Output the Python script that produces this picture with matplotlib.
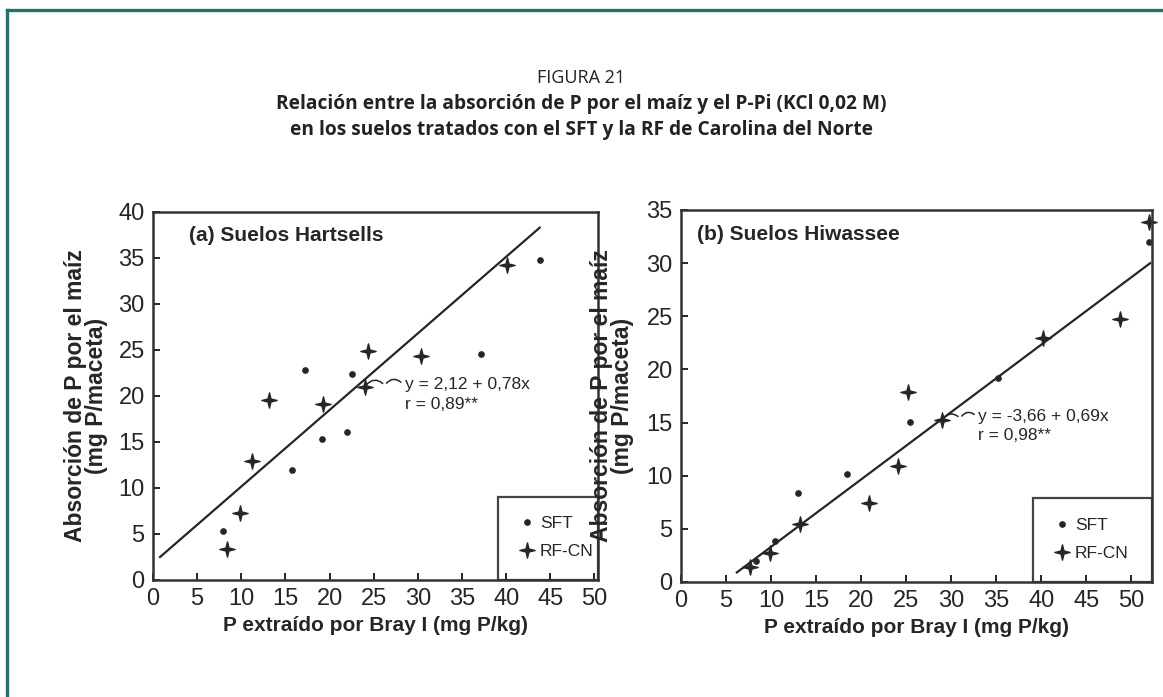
import matplotlib
matplotlib.use('Agg')
import matplotlib.pyplot as plt
import matplotlib.path as mpath
from matplotlib.lines import Line2D
from matplotlib.patches import Rectangle

W, H = 1163, 697

# (a) Suelos Hartsells
a_sft_x = [7.9, 15.7, 17.2, 19.1, 22.0, 22.5, 37.1, 43.8]
a_sft_y = [5.3, 12.0, 22.8, 15.3, 16.1, 22.4, 24.6, 34.8]
a_rf_x = [8.4, 9.8, 11.2, 13.1, 19.2, 24.0, 24.3, 30.3, 40.1]
a_rf_y = [3.4, 7.3, 12.9, 19.6, 19.1, 21.0, 24.9, 24.4, 34.2]
a_line_x = [0.8, 43.8]
a_line_y = [2.5, 38.3]

# (b) Suelos Hiwassee
b_sft_x = [8.3, 10.4, 13.0, 18.4, 25.4, 35.2, 52.0]
b_sft_y = [2.0, 3.9, 8.4, 10.2, 15.1, 19.2, 32.0]
b_rf_x = [7.7, 9.9, 13.2, 20.9, 24.1, 25.2, 29.0, 40.2, 48.8, 52.0]
b_rf_y = [1.4, 2.7, 5.5, 7.4, 10.9, 17.9, 15.2, 23.0, 24.7, 33.9]
b_line_x = [6.2, 52.1]
b_line_y = [0.9, 30.0]

x_ticks = list(range(0, 51, 5))
a_y_ticks = list(range(0, 41, 5))
b_y_ticks = list(range(0, 36, 5))

ink = '#262626'
sans = ['Liberation Sans', 'DejaVu Sans']
star = mpath.Path.unit_regular_star(4, 0.28)

fig = plt.figure(figsize=(W / 100, H / 100), dpi=100)

# marco verde
teal = '#16786a'
fig.add_artist(Line2D([7 / W, 1], [1 - 10 / H, 1 - 10 / H], color=teal, lw=2.4))
fig.add_artist(Line2D([7 / W, 7 / W], [0, 1 - 10 / H], color=teal, lw=2.4))

fig.text(0.5, 1 - 78 / H, 'FIGURA 21', ha='center', va='center',
         fontsize=13, family='Open Sans', color='#222')
fig.text(0.5, 1 - 104 / H, 'Relación entre la absorción de P por el maíz y el P-Pi (KCl 0,02 M)',
         ha='center', va='center', fontsize=13.8, family='Open Sans', weight='bold', color='#222')
fig.text(0.5, 1 - 130 / H, 'en los suelos tratados con el SFT y la RF de Carolina del Norte',
         ha='center', va='center', fontsize=13.8, family='Open Sans', weight='bold', color='#222')

ax1 = fig.add_axes([153 / W, 1 - 580 / H, 445 / W, 368 / H])
ax2 = fig.add_axes([681 / W, 1 - 582 / H, 471 / W, 372 / H])

panels = [
    (ax1, a_sft_x, a_sft_y, a_rf_x, a_rf_y, a_line_x, a_line_y, a_y_ticks, (0, 50.4), (0, 40),
     '(a) Suelos Hartsells', 'y = 2,12 + 0,78x', 'r = 0,89**', (a_rf_x[5], a_rf_y[5]), (28.5, 21.3),
     -0.10, 0.775, 0.08),
    (ax2, b_sft_x, b_sft_y, b_rf_x, b_rf_y, b_line_x, b_line_y, b_y_ticks, (0, 52.3), (0, 35),
     '(b) Suelos Hiwassee', 'y = -3,66 + 0,69x', 'r = 0,98**', (b_rf_x[6], b_rf_y[6]), (33.0, 15.6),
     -0.100, 0.747, 0.035),
]

for (ax, sx, sy, rx, ry, lx, ly, yt, xl, yl, name, eq, rr, pt, tpos, ylab_x, leg_x, name_x) in panels:
    ax.plot(lx, ly, color=ink, lw=1.6)
    ax.plot(sx, sy, 'o', color=ink, ms=3.8, ls='none', clip_on=False)
    ax.plot(rx, ry, marker=star, color=ink, ms=11, ls='none', clip_on=False)

    ax.set_xlim(*xl)
    ax.set_ylim(*yl)
    ax.set_xticks(x_ticks)
    ax.set_yticks(yt)
    ax.tick_params(direction='in', length=5, width=1.4, labelsize=17, colors=ink, pad=6)
    for lab in ax.get_xticklabels() + ax.get_yticklabels():
        lab.set_family(sans)
    for s in ax.spines.values():
        s.set_linewidth(1.8)
        s.set_color('#333')

    ax.set_xlabel('P extraído por Bray I (mg P/kg)', fontsize=15, weight='bold',
                  family=sans, color=ink, labelpad=4)
    ax.set_ylabel('Absorción de P por el maíz\n(mg P/maceta)', fontsize=16.5, weight='bold',
                  family=sans, color=ink, linespacing=0.9)
    ax.yaxis.set_label_coords(ylab_x, 0.5)

    ax.text(name_x, 0.935, name, transform=ax.transAxes, fontsize=15,
            weight='bold', family=sans, color=ink, va='center')
    ax.text(tpos[0], tpos[1], eq, fontsize=12.5, family=sans, color=ink, va='center')
    ax.text(tpos[0], tpos[1] - (2.2 if ax is ax1 else 1.8), rr, fontsize=12.5, family=sans,
            color=ink, va='center')

    # flecha ondulada
    mid = ((pt[0] + tpos[0]) / 2, (pt[1] + tpos[1]) / 2)
    ax.annotate('', xy=pt, xytext=mid,
                arrowprops=dict(arrowstyle='-', color=ink, lw=1.1, connectionstyle='arc3,rad=0.6'))
    ax.annotate('', xy=mid, xytext=(tpos[0] - 0.2, tpos[1]),
                arrowprops=dict(arrowstyle='-', color=ink, lw=1.1, connectionstyle='arc3,rad=0.6'))

    ax.add_patch(Rectangle((leg_x, 0), 1 - leg_x, 0.226, transform=ax.transAxes,
                           fill=False, edgecolor='#444', lw=1.6, clip_on=False))
    handles = [Line2D([], [], marker='o', color=ink, ms=3.8, ls='none'),
               Line2D([], [], marker=star, color=ink, ms=11, ls='none')]
    ax.legend(handles, ['SFT', 'RF-CN'], loc='lower left', bbox_to_anchor=(leg_x + 0.005, 0.005),
              frameon=False, prop={'family': sans, 'size': 12.5}, handlelength=0.9,
              handletextpad=0.3, labelspacing=0.75, borderpad=0.6, labelcolor=ink)

fig.savefig('out.png', dpi=100)
